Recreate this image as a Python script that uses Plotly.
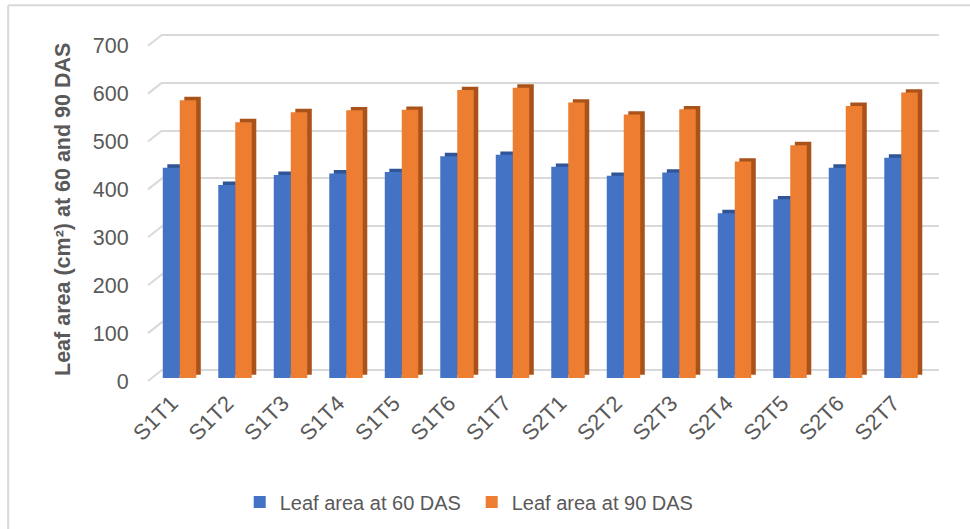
import plotly.graph_objects as go

categories = ["S1T1", "S1T2", "S1T3", "S1T4", "S1T5", "S1T6", "S1T7",
              "S2T1", "S2T2", "S2T3", "S2T4", "S2T5", "S2T6", "S2T7"]
leaf_60 = [439, 403, 424, 427, 430, 463, 466, 441, 422, 429, 344, 373, 439, 460]
leaf_90 = [580, 534, 555, 559, 560, 601, 606, 575, 550, 561, 452, 486, 568, 596]
y_ticks = [0, 100, 200, 300, 400, 500, 600, 700]
y_title = "<b>Leaf area (cm²) at 60 and 90 DAS</b>"

BLUE, BLUE_DARK = "#4472C4", "#2F5597"
ORANGE, ORANGE_DARK = "#ED7D31", "#A9531A"
TXT = "#595959"
GRID = "#D9D9D9"
FONT = "Liberation Sans, Arial, sans-serif"

W_BLUE, W_OR = 0.306, 0.297
DX, DY = 0.082, 7          # depth of the pseudo-3D faces

fig = go.Figure()
# bars (main axes x / y)
fig.add_trace(go.Bar(x=categories, y=leaf_60, base=DY, offset=-W_BLUE + DX, width=W_BLUE,
                     marker=dict(color=BLUE_DARK, line_width=0), showlegend=False,
                     hoverinfo="skip"))
fig.add_trace(go.Bar(x=categories, y=leaf_60, offset=-W_BLUE, width=W_BLUE,
                     marker=dict(color=BLUE, line_width=0), name="Leaf area at 60 DAS"))
fig.add_trace(go.Bar(x=categories, y=leaf_90, base=DY, offset=DX, width=W_OR,
                     marker=dict(color=ORANGE_DARK, line_width=0), showlegend=False,
                     hoverinfo="skip"))
fig.add_trace(go.Bar(x=categories, y=leaf_90, offset=0, width=W_OR,
                     marker=dict(color=ORANGE, line_width=0), name="Leaf area at 90 DAS"))
# helper traces so the back-wall grid axis and the front label axes are drawn
fig.add_trace(go.Scatter(x=categories, y=[None] * len(categories), yaxis="y2",
                         showlegend=False, hoverinfo="skip", mode="markers"))
fig.add_trace(go.Scatter(x=categories, y=[None] * len(categories), xaxis="x2", yaxis="y3",
                         showlegend=False, hoverinfo="skip", mode="markers"))

# slanted connector ticks between front labels and back grid
shapes = []
for t in y_ticks:
    shapes.append(dict(type="line", xref="paper", yref="y3", x0=-0.018, x1=0,
                       y0=t, y1=t + 23, line=dict(color=GRID, width=2)))
# chart border (left + top visible)
shapes.append(dict(type="line", xref="paper", yref="paper", x0=-0.198, x1=-0.198,
                   y0=1.07, y1=-0.45, line=dict(color=GRID, width=2)))
shapes.append(dict(type="line", xref="paper", yref="paper", x0=-0.198, x1=1.06,
                   y0=1.07, y1=1.07, line=dict(color=GRID, width=2)))

fig.update_layout(
    width=970, height=529,
    margin=dict(l=162, r=31, t=30, b=144),
    paper_bgcolor="white", plot_bgcolor="white",
    barmode="overlay",
    font=dict(family=FONT, color=TXT, size=20),
    showlegend=True,
    legend=dict(orientation="h", x=0.10, xanchor="left",
                yref="container", y=0.051, yanchor="middle",
                font=dict(size=20, color=TXT), traceorder="normal",
                entrywidth=187, entrywidthmode="pixels"),
    xaxis=dict(type="category", range=[-0.32, 13.68], showticklabels=False,
               showgrid=False, showline=False, zeroline=False),
    xaxis2=dict(type="category", overlaying="x", side="bottom", anchor="y3",
                categoryorder="array", categoryarray=categories,
                range=[-0.174, 13.826], tickangle=-45,
                showgrid=False, showline=False, zeroline=False,
                ticks="", tickfont=dict(size=22, color=TXT)),
    # bars: value 0 at the bar base
    yaxis=dict(range=[-14.6, 726.5], showticklabels=False, showgrid=False,
               zeroline=False, showline=False),
    # back wall grid
    yaxis2=dict(overlaying="y", side="left", range=[-31.3, 709.8], tickvals=y_ticks,
                showticklabels=False, showgrid=True, gridcolor=GRID, gridwidth=2,
                zeroline=False, showline=False),
    # front tick labels
    yaxis3=dict(overlaying="y", side="left", range=[-8.35, 732.8], tickvals=y_ticks,
                showgrid=False, zeroline=False, showline=False,
                ticks="outside", ticklen=28, tickcolor="rgba(0,0,0,0)",
                tickfont=dict(size=21.5, color=TXT)),
    annotations=[dict(text=y_title, xref="paper", yref="paper", x=-0.1274, y=0.493,
                      xanchor="center", yanchor="middle", textangle=-90, showarrow=False,
                      font=dict(size=21.5, color=TXT, family=FONT))],
    shapes=shapes,
)

fig.write_html("out.html", post_script="document.body.style.margin='0px';",
               config={"displayModeBar": False})
